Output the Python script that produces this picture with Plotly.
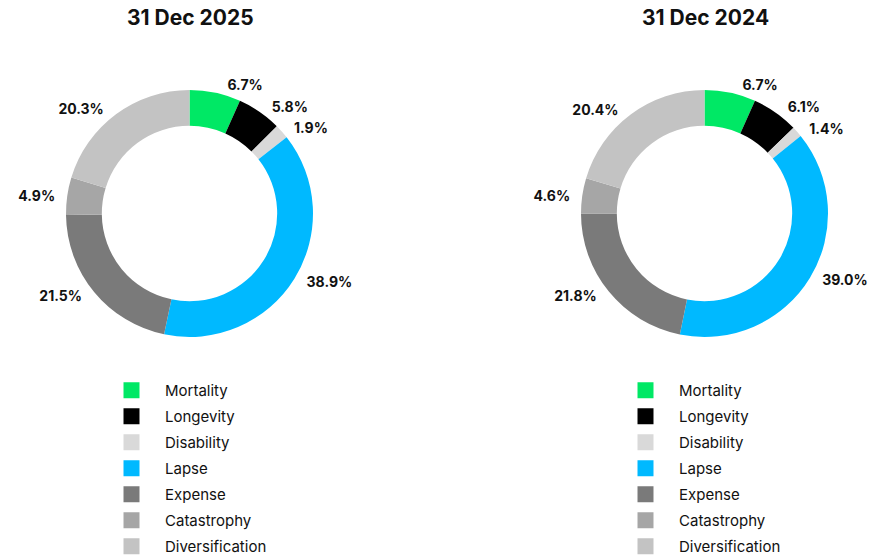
import plotly.graph_objects as go

categories = ["Mortality", "Longevity", "Disability", "Lapse", "Expense", "Catastrophy", "Diversification"]
values_2025 = [6.7, 5.8, 1.9, 38.9, 21.5, 4.9, 20.3]
values_2024 = [6.7, 6.1, 1.4, 39.0, 21.8, 4.6, 20.4]
titles = ["31 Dec 2025", "31 Dec 2024"]
colors = ["#00E865", "#000000", "#D9D9D9", "#00B9FF", "#7A7A7A", "#A6A6A6", "#C3C3C3"]

W, H = 876, 559
FONT = "Inter, Roboto, sans-serif"
PAD = "\u00a0\u00a0"

fig = go.Figure()

def pie(vals, dx, name):
    return go.Pie(
        labels=categories, values=vals, sort=False, direction="clockwise", rotation=0,
        hole=0.71, marker=dict(colors=colors, line=dict(width=0)),
        textposition="outside", texttemplate=PAD + "<b>%{value:.1f}%</b>" + PAD,
        textfont=dict(size=14, color="#111111", family=FONT),
        domain=dict(x=dx, y=[(H - 337) / H, (H - 90) / H]), showlegend=False, name=name,
        hoverinfo="label+value",
    )

fig.add_trace(pie(values_2025, [66 / W, 313 / W], titles[0]))
fig.add_trace(pie(values_2024, [581 / W, 828 / W], titles[1]))

# legend swatches
for k, lg in enumerate(["legend", "legend2"]):
    for i, (c, col) in enumerate(zip(categories, colors)):
        fig.add_trace(go.Scatter(
            x=[None], y=[None], mode="markers", name=c,
            marker=dict(symbol="square", size=16, color=col),
            legend=lg, legendgroup="%d_%d" % (k, i), showlegend=True, hoverinfo="skip",
        ))

legend_common = dict(
    orientation="v", font=dict(size=15, family=FONT, color="#111111"),
    itemwidth=57, bgcolor="rgba(0,0,0,0)", yanchor="top", y=1 - 374 / H,
    traceorder="grouped", tracegroupgap=3.5, itemclick=False, itemdoubleclick=False,
)
fig.update_layout(
    width=W, height=H, margin=dict(l=0, r=0, t=0, b=0, autoexpand=False),
    paper_bgcolor="white", plot_bgcolor="white",
    xaxis=dict(visible=False), yaxis=dict(visible=False),
    legend=dict(x=98 / W, xanchor="left", **legend_common),
    legend2=dict(x=612 / W, xanchor="left", **legend_common),
    annotations=[
        dict(text="<b>%s</b>" % titles[0], x=190 / W, y=1 - 18 / H, xref="paper", yref="paper",
             xanchor="center", showarrow=False, font=dict(size=21, family=FONT, color="#111111"),
             yanchor="middle"),
        dict(text="<b>%s</b>" % titles[1], x=705 / W, y=1 - 18 / H, xref="paper", yref="paper",
             xanchor="center", showarrow=False, font=dict(size=21, family=FONT, color="#111111"),
             yanchor="middle"),
    ],
)

fig.write_html("out.html", config={"displayModeBar": False},
               post_script="document.body.style.margin='0';")
